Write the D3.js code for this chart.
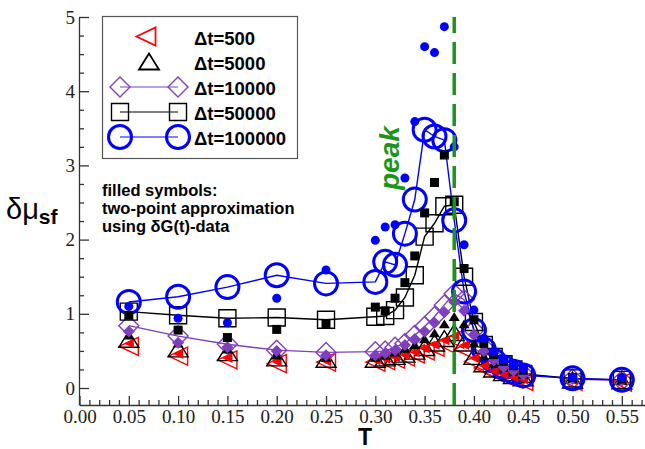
<!DOCTYPE html>
<html><head><meta charset="utf-8">
<script src="https://cdn.jsdelivr.net/npm/d3@7"></script>
<style>
html,body{margin:0;padding:0;background:#fff;}
svg{display:block;}
</style></head>
<body>
<svg id="chart" width="645" height="449"></svg>
<script>
// ---------------- data ----------------
const temps = [0.05,0.10,0.15,0.20,0.25,0.30,0.31,0.32,0.33,0.34,0.35,0.36,0.37,0.38,0.39,0.40,0.41,0.42,0.43,0.44,0.45,0.50,0.55];
const dt500      = [0.56,0.43,0.38,0.33,0.35,0.35,0.37,0.39,0.42,0.46,0.50,0.55,0.60,0.66,0.52,0.36,0.27,0.21,0.16,0.12,0.09,0.09,0.08];
const dt500Fill  = [0.60,0.46,0.40,0.35,0.36,0.37,0.39,0.41,0.44,0.48,0.53,0.58,0.64,0.70,0.58,0.40,0.30,0.23,0.18,0.14,0.11,0.10,0.09];
const dt5000     = [0.65,0.52,0.47,0.40,0.38,0.38,0.40,0.42,0.45,0.49,0.54,0.60,0.66,0.74,0.60,0.42,0.32,0.25,0.20,0.16,0.13,0.10,0.09];
const dt5000Fill = [0.71,0.60,0.52,0.44,0.41,0.41,0.44,0.48,0.53,0.58,0.66,0.74,0.86,0.96,0.86,0.60,0.43,0.33,0.27,0.22,0.18,0.12,0.10];
const dt10000    = [0.84,0.70,0.59,0.51,0.48,0.49,0.50,0.55,0.60,0.71,0.83,0.96,1.12,1.27,1.19,0.78,0.55,0.40,0.30,0.24,0.19,0.12,0.10];
const dt10000Fill= [0.76,0.61,0.55,0.50,0.44,0.44,0.47,0.51,0.58,0.66,0.76,0.88,1.02,1.16,1.04,0.72,0.50,0.37,0.28,0.23,0.18,0.12,0.10];
const dt50000    = [1.03,0.98,0.94,0.95,0.92,0.96,0.97,1.05,1.22,1.52,2.04,2.22,2.45,2.47,1.50,0.89,0.58,0.42,0.32,0.25,0.19,0.13,0.11];
const dt50000Fill= [0.98,0.78,0.68,0.79,0.87,1.09,1.04,1.21,1.42,1.78,2.36,2.77,3.14,2.51,1.61,0.92,0.60,0.45,0.36,0.30,0.24,0.14,0.12];
const dt100000   = [1.16,1.23,1.36,1.52,1.41,1.43,1.70,1.66,2.08,2.54,3.48,3.39,3.34,2.26,1.30,0.78,0.52,0.37,0.28,0.22,0.17,0.13,0.11];
const dt100000Fill=[1.10,0.94,0.88,1.21,1.59,1.99,2.17,2.20,2.83,3.59,4.60,4.52,4.87,3.25,1.93,1.05,0.67,0.49,0.38,0.31,0.26,0.15,0.14];

const xTicks = [0.00,0.05,0.10,0.15,0.20,0.25,0.30,0.35,0.40,0.45,0.50,0.55];
const yTicks = [0,1,2,3,4,5];
const peakT = 0.38;
const legendLabels = ["\u0394t=500","\u0394t=5000","\u0394t=10000","\u0394t=50000","\u0394t=100000"];
const noteLines = ["filled symbols:","two-point approximation","using \u03b4G(t)-data"];

// ---------------- setup ----------------
const svg = d3.select("#chart");
const x = d3.scaleLinear().domain([0, 0.575]).range([79.5, 646.5]);
const y = d3.scaleLinear().domain([-0.229, 5]).range([405, 17]);

const RED = "#ff0000", BLACK = "#000000", PURPLE = "#7f3fbf", BLUE = "#0000ff", GREEN = "#1a961a";

function shapePath(type, s) {
  const h = s / 2;
  switch (type) {
    case "tleft": return `M${-h},0L${h},${-h*0.95}L${h},${h*0.95}Z`;
    case "tup": return `M0,${-h*0.85}L${h},${h*0.75}L${-h},${h*0.75}Z`;
    case "diamond": return `M0,${-h}L${h},0L0,${h}L${-h},0Z`;
    case "square": return `M${-h},${-h}H${h}V${h}H${-h}Z`;
    case "circle": return d3.arc()({innerRadius:0, outerRadius:h, startAngle:0, endAngle:2*Math.PI});
  }
}

const series = [
  {vals: dt500,  shape:"tleft",  size:19, color:RED,    sw:1.4, line:false},
  {vals: dt5000, shape:"tup",    size:20, color:BLACK,  sw:1.4, line:false},
  {vals: dt10000,shape:"diamond",size:20, color:PURPLE, sw:1.4, line:true},
  {vals: dt50000,shape:"square", size:17, color:BLACK,  sw:1.4, line:true},
  {vals: dt100000,shape:"circle",size:23, color:BLUE,   sw:3,   line:true},
];
const filled = [
  {vals: dt500Fill,  shape:"tleft",  size:10, color:RED},
  {vals: dt5000Fill, shape:"tup",    size:11, color:BLACK},
  {vals: dt10000Fill,shape:"diamond",size:12, color:PURPLE},
  {vals: dt50000Fill,shape:"square", size:9,  color:BLACK},
  {vals: dt100000Fill,shape:"circle",size:9,  color:BLUE},
];

// ---------------- axes ----------------
const axisG = svg.append("g");
const xMinor = d3.range(0, 58).map(i => i/100).filter(v => Math.round(v*100) % 5 !== 0);
const yMinor = d3.range(0, 21).map(i => i/4).filter(v => v % 1 !== 0);

axisG.append("g").attr("transform","translate(0,405)")
  .call(d3.axisBottom(x).tickValues(xTicks).tickFormat(d3.format(".2f")).tickSizeInner(-9).tickSizeOuter(0).tickPadding(5));
axisG.append("g").attr("transform","translate(0,405)")
  .call(d3.axisBottom(x).tickValues(xMinor).tickFormat("").tickSizeInner(-5).tickSizeOuter(0))
  .select(".domain").remove();
axisG.append("g").attr("transform","translate(79,0)")
  .call(d3.axisLeft(y).tickValues(yTicks).tickFormat(d3.format("d")).tickSizeInner(-10).tickSizeOuter(0).tickPadding(4));
axisG.append("g").attr("transform","translate(79,0)")
  .call(d3.axisLeft(y).tickValues(yMinor).tickFormat("").tickSizeInner(-5).tickSizeOuter(0))
  .select(".domain").remove();
axisG.selectAll(".domain, line").attr("stroke","#333").attr("stroke-width",1.3);
axisG.selectAll("text").attr("font-family","'Liberation Serif', serif").attr("font-size",19).attr("fill","#222");

// axis titles
svg.append("text").attr("x",365).attr("y",445).attr("text-anchor","middle")
  .attr("font-family","'Liberation Sans', Arial, sans-serif").attr("font-weight","bold").attr("font-size",23).text("T");
const yl = svg.append("text").attr("x",6).attr("y",219)
  .attr("font-family","'Liberation Sans', Arial, sans-serif").attr("font-size",29);
yl.append("tspan").text("\u03b4\u03bc");
yl.append("tspan").attr("dy",5).attr("font-weight","bold").attr("font-size",21).text("sf");

// ---------------- data marks ----------------
const plot = svg.append("g");
const lineGen = vals => d3.line().x((d,i)=>x(temps[i])).y(d=>y(d))(vals);

series.forEach(s => {
  if (s.line) {
    plot.append("path").attr("d", lineGen(s.vals)).attr("fill","none")
      .attr("stroke", s.color).attr("stroke-width", 1.4);
  }
});
series.forEach(s => {
  plot.append("g").selectAll("path").data(s.vals).join("path")
    .attr("transform",(d,i)=>`translate(${x(temps[i])},${y(d)})`)
    .attr("d", shapePath(s.shape, s.size))
    .attr("fill","none").attr("stroke", s.color).attr("stroke-width", s.sw);
});
filled.forEach(s => {
  plot.append("g").selectAll("path").data(s.vals).join("path")
    .attr("transform",(d,i)=>`translate(${x(temps[i])},${y(d)})`)
    .attr("d", shapePath(s.shape, s.size))
    .attr("fill", s.color).attr("stroke","none");
});

// peak line
svg.append("line").attr("x1",x(peakT)).attr("x2",x(peakT)).attr("y1",405).attr("y2",17)
  .attr("stroke",GREEN).attr("stroke-width",3.5).attr("stroke-dasharray","22,9");
svg.append("text").attr("transform",`translate(399,190) rotate(-90)`)
  .attr("font-family","'Liberation Sans', Arial, sans-serif").attr("font-weight","bold").attr("font-style","italic")
  .attr("font-size",28).attr("fill",GREEN).text("peak");

// note text
svg.append("g").selectAll("text").data(noteLines).join("text")
  .attr("x",102).attr("y",(d,i)=>196+i*18)
  .attr("font-family","'Liberation Sans', Arial, sans-serif").attr("font-weight","bold").attr("font-size",16.5)
  .text(d=>d);

// ---------------- legend ----------------
const lg = svg.append("g");
lg.append("rect").attr("x",102.5).attr("y",16.5).attr("width",195).attr("height",142)
  .attr("fill","#fff").attr("stroke","#555").attr("stroke-width",1.2);
const rowsY = [36.5, 62, 87, 112, 137];
series.forEach((s,i) => {
  const cy = rowsY[i];
  if (s.line) {
    lg.append("line").attr("x1",120).attr("x2",178).attr("y1",cy).attr("y2",cy)
      .attr("stroke",s.color).attr("stroke-width",1.2);
    [120,178].forEach(cx => lg.append("path").attr("transform",`translate(${cx},${cy})`)
      .attr("d",shapePath(s.shape,s.size)).attr("fill","none").attr("stroke",s.color).attr("stroke-width",s.sw));
  } else {
    lg.append("path").attr("transform",`translate(${i===0?146:149},${cy})`)
      .attr("d",shapePath(s.shape,s.size)).attr("fill","none").attr("stroke",s.color).attr("stroke-width",s.sw+0.4);
  }
  lg.append("text").attr("x",194).attr("y",cy+8)
    .attr("font-family","'Liberation Sans', Arial, sans-serif").attr("font-weight","bold").attr("font-size",18.5)
    .text(legendLabels[i]);
});
</script>
</body></html>
